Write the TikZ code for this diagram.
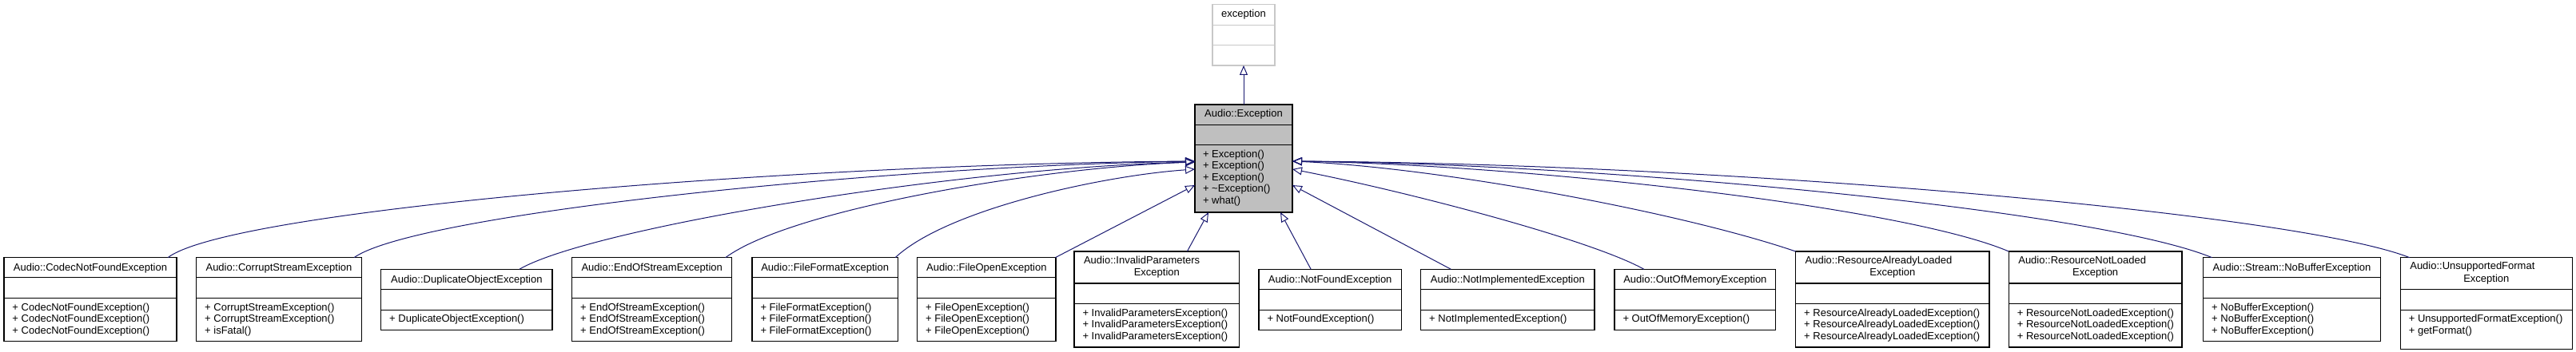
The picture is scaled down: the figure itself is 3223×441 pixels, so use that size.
\documentclass[tikz,border=0pt]{standalone}
\usepackage{fontspec}
\setmainfont{Liberation Sans}
\usetikzlibrary{arrows.meta}
\definecolor{edgeblue}{HTML}{191970}
\definecolor{boxgray}{HTML}{BFBFBF}
\definecolor{paleborder}{HTML}{C8C8C8}
\newcommand\classbox[8]{% name, x1, x2, y1, y2, div1, div2, style prefix
  \node[#8, minimum width={#3-(#2)}, minimum height={#5-(#4)}] (#1) at ({(#2+#3)/2},{(#4+#5)/2}) {};
  \draw[#8div] (#2,#6) -- (#3,#6) (#2,#7) -- (#3,#7);
}
\newcommand\classmethods[4]{% name, x, first baseline, list
  \foreach \m [count=\i] in {#4} {
    \node[txt, anchor=base west] (#1-m\i) at (#2, {#3+(\i-1)*14.6}) {\m};
  }
}
\begin{document}
\begin{tikzpicture}[x=1pt,y=-1pt,
  cls/.style={draw=black, fill=white, line width=1.15pt, inner sep=0pt, outer sep=0pt},
  clsdiv/.style={draw=black, line width=1.15pt},
  gcls/.style={draw=black, fill=boxgray, line width=1.4pt, inner sep=0pt, outer sep=0pt},
  gclsdiv/.style={draw=black, line width=1.4pt},
  pcls/.style={draw=paleborder, fill=white, line width=1.2pt, inner sep=0pt, outer sep=0pt},
  pclsdiv/.style={draw=paleborder, line width=1.2pt},
  txt/.style={font=\fontsize{13}{15}\selectfont, inner sep=0pt, outer sep=0pt},
  edge/.style={draw=edgeblue, line width=1pt, -{Triangle[open, length=12pt, width=10pt, line width=1pt]}}]
\useasboundingbox (0,0) rectangle (3223,441);

% parent classes
\classbox{exc}{1517}{1595}{5.7}{82}{31.7}{56.7}{pcls}
\node[txt, anchor=base] (exc-t) at (1556,22) {exception};

\classbox{aexc}{1495}{1617}{131}{266}{156.7}{181.7}{gcls}
\node[txt, anchor=base] (aexc-t) at (1556,146.5) {Audio::Exception};
\classmethods{aexc}{1505}{197}{{+ Exception()},{+ Exception()},{+ Exception()},{+ \textasciitilde Exception()},{+ what()}}

% derived classes
\classbox{codec}{5}{221}{322.7}{427.7}{347.7}{373.3}{cls}
\node[txt, anchor=base] (codec-t) at (113,339.7) {Audio::CodecNotFoundException};
\classmethods{codec}{15.5}{389}{{+ CodecNotFoundException()},{+ CodecNotFoundException()},{+ CodecNotFoundException()}}

\classbox{corrupt}{245.7}{452.3}{322.7}{427.7}{347.7}{373.3}{cls}
\node[txt, anchor=base] (corrupt-t) at (349,339.7) {Audio::CorruptStreamException};
\classmethods{corrupt}{256.2}{389}{{+ CorruptStreamException()},{+ CorruptStreamException()},{+ isFatal()}}

\classbox{dup}{476.7}{691}{337.3}{413.3}{362.3}{388.3}{cls}
\node[txt, anchor=base] (dup-t) at (583.85,354.3) {Audio::DuplicateObjectException};
\classmethods{dup}{487.2}{403.5}{{+ DuplicateObjectException()}}

\classbox{eos}{715.7}{915.7}{322.7}{427.7}{347.7}{373.3}{cls}
\node[txt, anchor=base] (eos-t) at (815.7,339.7) {Audio::EndOfStreamException};
\classmethods{eos}{726.2}{389}{{+ EndOfStreamException()},{+ EndOfStreamException()},{+ EndOfStreamException()}}

\classbox{ffmt}{941}{1123.3}{322.7}{427.7}{347.7}{373.3}{cls}
\node[txt, anchor=base] (ffmt-t) at (1032.15,339.7) {Audio::FileFormatException};
\classmethods{ffmt}{951.5}{389}{{+ FileFormatException()},{+ FileFormatException()},{+ FileFormatException()}}

\classbox{fopen}{1147.7}{1321}{322.7}{427.7}{347.7}{373.3}{cls}
\node[txt, anchor=base] (fopen-t) at (1234.35,339.7) {Audio::FileOpenException};
\classmethods{fopen}{1158.2}{389}{{+ FileOpenException()},{+ FileOpenException()},{+ FileOpenException()}}

\classbox{inv}{1344}{1550.7}{315}{435}{355}{380.7}{cls}
\node[txt, anchor=base west] (inv-t1) at (1356,330.5) {Audio::InvalidParameters};
\node[txt, anchor=base] (inv-t2) at (1447.35,345.7) {Exception};
\classmethods{inv}{1354.5}{396.3}{{+ InvalidParametersException()},{+ InvalidParametersException()},{+ InvalidParametersException()}}

\classbox{nf}{1575}{1753.3}{337.3}{413.3}{362.3}{388.3}{cls}
\node[txt, anchor=base] (nf-t) at (1664.15,354.3) {Audio::NotFoundException};
\classmethods{nf}{1585.5}{403.5}{{+ NotFoundException()}}

\classbox{ni}{1777.7}{1995}{337.3}{413.3}{362.3}{388.3}{cls}
\node[txt, anchor=base] (ni-t) at (1886.35,354.3) {Audio::NotImplementedException};
\classmethods{ni}{1788.2}{403.5}{{+ NotImplementedException()}}

\classbox{oom}{2020}{2221.7}{337.3}{413.3}{362.3}{388.3}{cls}
\node[txt, anchor=base] (oom-t) at (2120.85,354.3) {Audio::OutOfMemoryException};
\classmethods{oom}{2030.5}{403.5}{{+ OutOfMemoryException()}}

\classbox{ral}{2246.7}{2489}{315}{435}{355}{380.7}{cls}
\node[txt, anchor=base west] (ral-t1) at (2258.7,330.5) {Audio::ResourceAlreadyLoaded};
\node[txt, anchor=base] (ral-t2) at (2367.85,345.7) {Exception};
\classmethods{ral}{2257.2}{396.3}{{+ ResourceAlreadyLoadedException()},{+ ResourceAlreadyLoadedException()},{+ ResourceAlreadyLoadedException()}}

\classbox{rnl}{2513.3}{2730}{315}{435}{355}{380.7}{cls}
\node[txt, anchor=base west] (rnl-t1) at (2525.3,330.5) {Audio::ResourceNotLoaded};
\node[txt, anchor=base] (rnl-t2) at (2621.65,345.7) {Exception};
\classmethods{rnl}{2523.8}{396.3}{{+ ResourceNotLoadedException()},{+ ResourceNotLoadedException()},{+ ResourceNotLoadedException()}}

\classbox{nob}{2756.7}{2978.3}{322.7}{427.7}{347.7}{373.3}{cls}
\node[txt, anchor=base] (nob-t) at (2867.5,339.7) {Audio::Stream::NoBufferException};
\classmethods{nob}{2767.2}{389}{{+ NoBufferException()},{+ NoBufferException()},{+ NoBufferException()}}

\classbox{uns}{3003.3}{3218.3}{322.7}{437.3}{362.3}{388.3}{cls}
\node[txt, anchor=base west] (uns-t1) at (3015.3,337.9) {Audio::UnsupportedFormat};
\node[txt, anchor=base] (uns-t2) at (3110.8,353.3) {Exception};
\classmethods{uns}{3013.8}{403.5}{{+ UnsupportedFormatException()},{+ getFormat()}}

% inheritance edges
\draw[edge] (aexc.north) -- (exc.south);

\draw[edge] ([xshift=97pt]codec.north) .. controls (290,262) and (1000,205) .. ([yshift=-3.5pt]aexc.west);
\draw[edge] ([xshift=94pt]corrupt.north) .. controls (520,268) and (1100,208) .. ([yshift=-3.5pt]aexc.west);
\draw[edge] ([xshift=66pt]dup.north) .. controls (740,285) and (1200,210) .. ([yshift=-4.5pt]aexc.west);
\draw[edge] ([xshift=92pt]eos.north) .. controls (990,262) and (1300,210) .. ([yshift=-4.5pt]aexc.west);
\draw[edge] ([xshift=88pt]ffmt.north) .. controls (1185,262) and (1380,220) .. ([yshift=-13.5pt]aexc.west);
\draw[edge] ([xshift=86pt]fopen.north) -- ([yshift=-33.5pt]aexc.west);
\draw[edge] ([xshift=38pt]inv.north) -- ([xshift=-44pt]aexc.south);
\draw[edge] ([xshift=-24pt]nf.north) -- ([xshift=46pt]aexc.south);
\draw[edge] ([xshift=-71pt]ni.north) -- ([yshift=-33.5pt]aexc.east);
\draw[edge] ([xshift=-64pt]oom.north) .. controls (1990,300) and (1760,240) .. ([yshift=-13.5pt]aexc.east);
\draw[edge] (ral.north west) .. controls (2100,265) and (1800,210) .. ([yshift=-3.5pt]aexc.east);
\draw[edge] (rnl.north west) .. controls (2380,258) and (1900,206) .. ([yshift=-3.5pt]aexc.east);
\draw[edge] ([xshift=-100pt]nob.north) .. controls (2620,262) and (2000,205) .. ([yshift=-3.5pt]aexc.east);
\draw[edge] ([xshift=-96pt]uns.north) .. controls (2870,266) and (2150,205) .. ([yshift=-3.5pt]aexc.east);
\end{tikzpicture}
\end{document}
